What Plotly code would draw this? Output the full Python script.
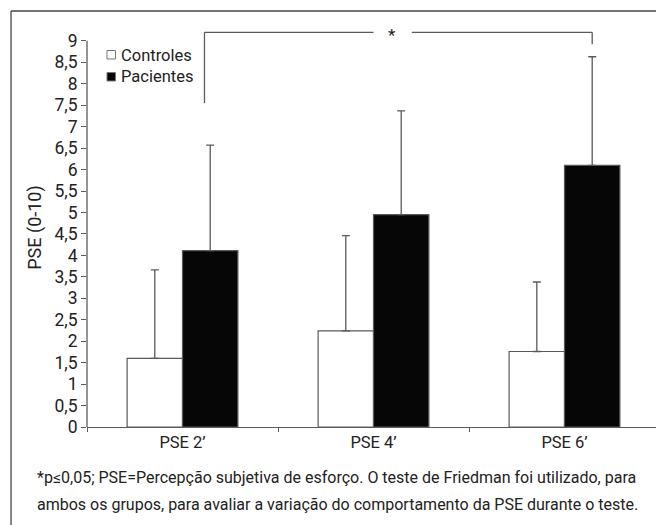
import plotly.graph_objects as go

categories = ["PSE 2’", "PSE 4’", "PSE 6’"]
controles = [1.60, 2.24, 1.76]
controles_sd = [2.06, 2.22, 1.62]
pacientes = [4.11, 4.95, 6.10]
pacientes_sd = [2.46, 2.42, 2.53]
y_ticks = [0, 0.5, 1, 1.5, 2, 2.5, 3, 3.5, 4, 4.5, 5, 5.5, 6, 6.5, 7, 7.5, 8, 8.5, 9]
y_ticktext = [str(v).replace(".", ",") if v % 1 else str(int(v)) for v in y_ticks]
legend_names = ["Controles", "Pacientes"]
caption_lines = [
    "*p≤0,05; PSE=Percepção subjetiva de esforço. O teste de Friedman foi utilizado, para",
    "ambos os grupos, para avaliar a variação do comportamento da PSE durante o teste.",
]

FONT = "Roboto, Liberation Sans, sans-serif"
LINE = "#5a5a5a"
TXT = "#222222"
FILLS = ["white", "#060606"]

fig = go.Figure()
for name, vals, sds, fill in [(legend_names[0], controles, controles_sd, FILLS[0]),
                              (legend_names[1], pacientes, pacientes_sd, FILLS[1])]:
    fig.add_trace(go.Bar(
        name=name, x=categories, y=vals, showlegend=False,
        marker=dict(color=fill, line=dict(color=LINE, width=1.2)),
        error_y=dict(type="data", array=sds, symmetric=False, arrayminus=[0] * len(sds),
                     color=LINE, thickness=1.3, width=4),
    ))

shapes = []
# y axis line (0..9)
shapes.append(dict(type="line", xref="paper", yref="y", x0=0, x1=0, y0=0, y1=9,
                   line=dict(color=LINE, width=1.3)))
# significance bracket
br_top = 9.2
shapes += [
    dict(type="line", xref="x", yref="y", x0=0.115, x1=0.115, y0=7.55, y1=br_top, line=dict(color=LINE, width=1.3)),
    dict(type="line", xref="x", yref="y", x0=0.115, x1=1.0, y0=br_top, y1=br_top, line=dict(color=LINE, width=1.3)),
    dict(type="line", xref="x", yref="y", x0=1.2, x1=2.145, y0=br_top, y1=br_top, line=dict(color=LINE, width=1.3)),
    dict(type="line", xref="x", yref="y", x0=2.145, x1=2.145, y0=8.92, y1=br_top, line=dict(color=LINE, width=1.3)),
]
# outer frame (top and left)
shapes += [
    dict(type="line", xref="paper", yref="paper", x0=-0.1326, x1=1.02, y0=1.0426, y1=1.0426,
         line=dict(color="#444", width=1.3)),
    dict(type="line", xref="paper", yref="paper", x0=-0.1326, x1=-0.1326, y0=1.0426, y1=-0.3,
         line=dict(color="#444", width=1.3)),
]
# legend swatches
legend_y = [(0.9223, 0.9436), (0.8672, 0.8885)]
for (y0, y1), fill in zip(legend_y, FILLS):
    shapes.append(dict(type="rect", xref="paper", yref="paper", x0=0.0349, x1=0.0497, y0=y0, y1=y1,
                       fillcolor=fill, line=dict(color="#777", width=1)))

annotations = [
    dict(x=1.095, y=br_top, xref="x", yref="y", text="*", showarrow=False,
         font=dict(family=FONT, size=17, color=TXT), yanchor="middle", yshift=-3),
]
for name, yc in zip(legend_names, [0.9323, 0.8772]):
    annotations.append(dict(x=0.0565, y=yc, xref="paper", yref="paper", xanchor="left", yanchor="middle",
                            text=name, showarrow=False, font=dict(family=FONT, size=16.5, color=TXT)))
for line, yc in zip(caption_lines, [-0.1275, -0.195]):
    annotations.append(dict(x=-0.0908, y=yc, xref="paper", yref="paper", xanchor="left", yanchor="middle",
                            text=line, showarrow=False, font=dict(family=FONT, size=16, color=TXT)))

fig.update_layout(
    width=656, height=517,
    margin=dict(l=79, r=4, t=20, b=98),
    paper_bgcolor="white", plot_bgcolor="white",
    barmode="group", bargap=0.42, bargroupgap=0,
    font=dict(family=FONT, size=17, color=TXT),
    showlegend=False,
    shapes=shapes, annotations=annotations,
)
fig.update_xaxes(showline=True, linecolor=LINE, linewidth=1.3, ticks="outside",
                 tickson="boundaries", ticklen=4, tickcolor=LINE, showgrid=False,
                 tickfont=dict(family=FONT, size=16.5, color=TXT), range=[-0.5, 2.5])
fig.update_yaxes(range=[0, 9.3], tickvals=y_ticks, ticktext=y_ticktext, showline=False,
                 ticks="outside", ticklen=5, tickcolor=LINE, showgrid=False, zeroline=False,
                 tickfont=dict(family=FONT, size=17.5, color=TXT),
                 title=dict(text="PSE (0-10)", font=dict(family=FONT, size=18, color=TXT), standoff=8))

fig.write_html("out.html")
